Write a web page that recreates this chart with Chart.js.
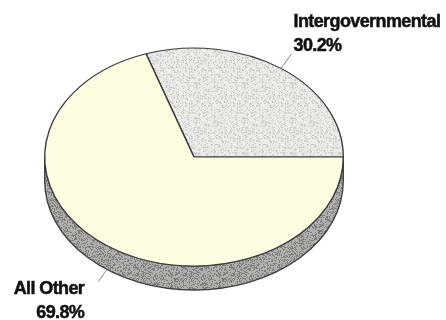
<!DOCTYPE html>
<html>
<head>
<meta charset="utf-8">
<script src="https://cdn.jsdelivr.net/npm/chart.js@4/dist/chart.umd.min.js"></script>
<style>
    html, body { margin: 0; padding: 0; background: #fff; }
    #wrap { width: 446px; height: 320px; }
</style>
</head>
<body>
<div id="wrap"><canvas id="pie-chart" width="446" height="320"></canvas></div>
<script>
// chart data
const categories = ['Intergovernmental', 'All Other'];
const shares = [30.2, 69.8];
const shareLabels = ['30.2%', '69.8%'];

// look of the fake 3d pie
const tilt = 0.73;
const depth = 24;
const edgeColor = '#3c3c3c';

// speckled fill like the printed original (fixed hash, texture only)
const speckle = function(base, dark, amount){
    const c = document.createElement('canvas');
    c.width = 48; c.height = 48;
    const g = c.getContext('2d');
    g.fillStyle = base;
    g.fillRect(0, 0, 48, 48);
    g.fillStyle = dark;
    for (let y = 0; y < 48; y++) {
        for (let x = 0; x < 48; x++) {
            const h = ((x * 73856093) ^ (y * 19349663)) >>> 0;
            if ((h % 1000) / 1000 < amount) g.fillRect(x, y, 1, 1);
        }
    }
    return g.createPattern(c, 'repeat');
};

const sliceColors = [speckle('#ececea', '#c4c4c2', 0.22), '#fcfce1'];
const sideFill = speckle('#b0b0ae', '#7e7e7c', 0.35);

const tiltPlugin = {
    id: 'tilt',
    beforeDatasetsDraw(chart) {
        const ctx = chart.ctx;
        const arc = chart.getDatasetMeta(0).data[0];
        const cx = arc.x, cy = arc.y, r = arc.outerRadius, ry = r * tilt;

        ctx.save();
        // side wall, only the front half shows
        ctx.beginPath();
        ctx.ellipse(cx, cy, r, ry, 0, 0, Math.PI);
        ctx.lineTo(cx - r, cy + depth);
        ctx.ellipse(cx, cy + depth, r, ry, 0, Math.PI, 0, true);
        ctx.closePath();
        ctx.fillStyle = sideFill;
        ctx.fill();
        ctx.strokeStyle = edgeColor;
        ctx.lineWidth = 1.3;
        ctx.stroke();

        // squash the top face into an ellipse
        ctx.translate(cx, cy);
        ctx.scale(1, tilt);
        ctx.translate(-cx, -cy);
    },
    afterDatasetsDraw(chart) {
        chart.ctx.restore();
    }
};

const labelPlugin = {
    id: 'sliceLabels',
    afterDraw(chart) {
        const ctx = chart.ctx;
        const arcs = chart.getDatasetMeta(0).data;
        const lineHeight = 24;

        ctx.save();
        ctx.font = 'bold 18px "Liberation Sans", Arial, sans-serif';
        ctx.fillStyle = '#111';
        ctx.strokeStyle = '#111';
        ctx.lineWidth = 0.5;
        if ('letterSpacing' in ctx) ctx.letterSpacing = '-0.6px';

        arcs.forEach((arc, i) => {
            const mid = (arc.startAngle + arc.endAngle) / 2;
            const cos = Math.cos(mid), sin = Math.sin(mid);
            const r = arc.outerRadius;
            const ax = arc.x + r * cos;
            const ay = arc.y + r * tilt * sin + (sin > 0 ? depth : 0);
            const len = sin > 0 ? 15 : 18;
            const ex = ax + len * cos;
            const ey = ay + len * sin;

            ctx.beginPath();
            ctx.moveTo(ax, ay);
            ctx.lineTo(ex, ey);
            ctx.save();
            ctx.strokeStyle = '#8a8a8a';
            ctx.lineWidth = 1;
            ctx.stroke();
            ctx.restore();

            const lines = [categories[i], shareLabels[i]];
            lines.forEach((t, j) => {
                let x, y;
                if (cos > 0) {
                    ctx.textAlign = 'left';
                    x = ex + 2;
                    y = ey - 3 - lineHeight * (lines.length - 1 - j);
                } else {
                    ctx.textAlign = 'right';
                    x = ex - 14;
                    y = ey + 12 + lineHeight * j;
                }
                ctx.fillText(t, x, y);
                ctx.strokeText(t, x, y);
            });
        });
        ctx.restore();
    }
};

const ctx = document.getElementById('pie-chart');

const chart = new Chart(ctx, {
    type: 'pie',
    data: {
        labels: categories,
        datasets: [{
            data: shares,
            backgroundColor: sliceColors,
            borderColor: edgeColor,
            borderWidth: 1.4,
            hoverOffset: 0,
            clip: false
        }]
    },
    options: {
        responsive: false,
        animation: false,
        events: [],
        // first slice ends at 3 o'clock
        rotation: 90 - shares[0] * 3.6,
        layout: {
            padding: { left: 44, right: 102, top: 7, bottom: 13 }
        },
        plugins: {
            legend: { display: false },
            tooltip: { enabled: false }
        }
    },
    plugins: [tiltPlugin, labelPlugin]
});
</script>
</body>
</html>
